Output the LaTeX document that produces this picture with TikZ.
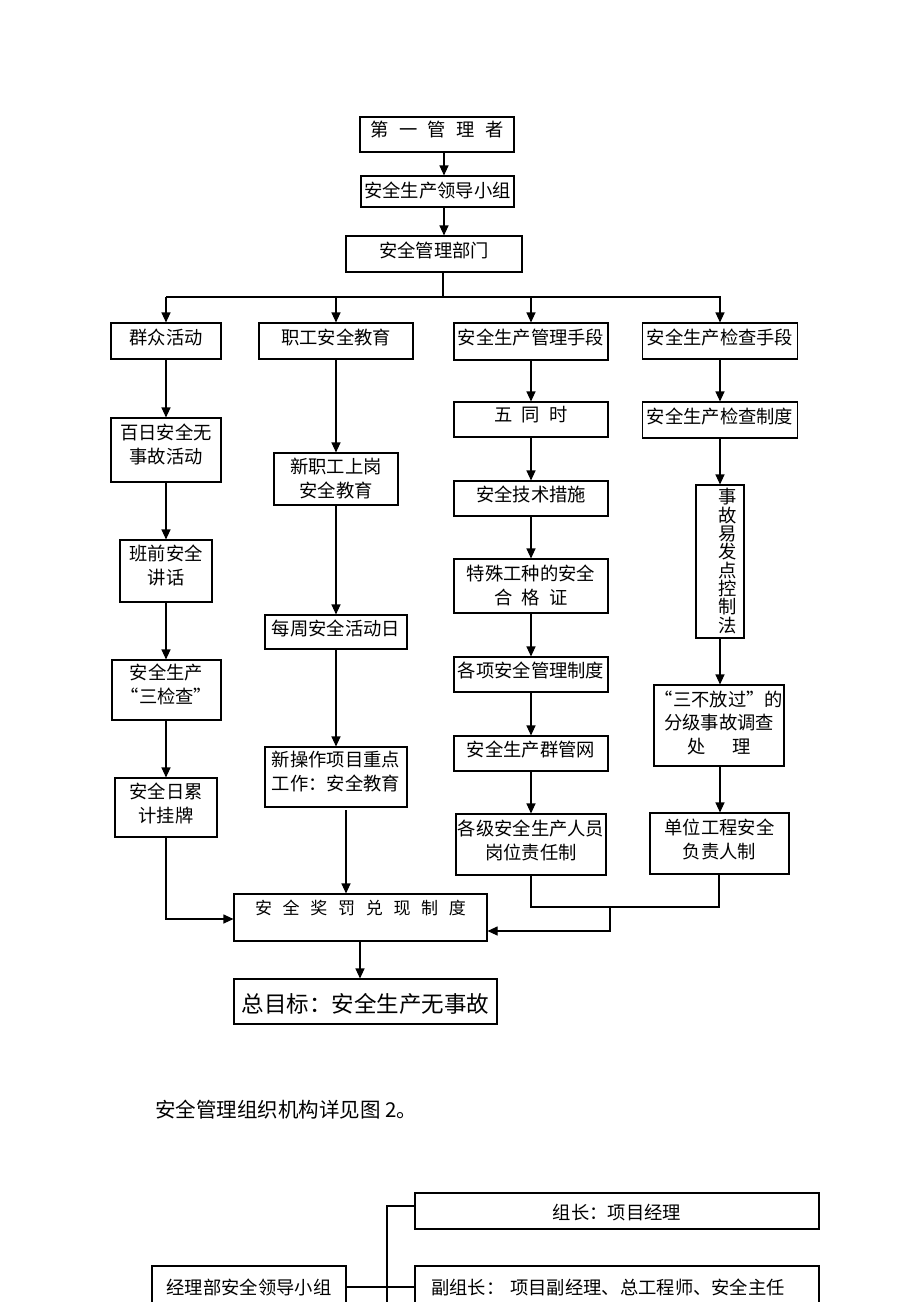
\documentclass[tikz,border=0pt]{standalone}
\usepackage{fontspec}
\setmainfont{Noto Sans CJK SC}
\usetikzlibrary{arrows.meta}
\newcommand{\fsa}{\fontsize{18.3}{24}\selectfont}
\newcommand{\gp}[1]{\hspace{#1pt}}
\begin{document}
\begin{tikzpicture}[x=1pt,y=-1pt,
  box/.style={draw=black, line width=1.1pt, inner sep=0pt, align=center, font=\fsa},
  ln/.style={line width=1.1pt},
  arr/.style={ln, -{Triangle[length=10pt,width=9pt]}}]
\path[use as bounding box, fill=white] (0,0) rectangle (920,1302);
\clip (0,0) rectangle (920,1302);

% column x coordinates
\coordinate (xa) at (444,0);
\coordinate (x1) at (166,0);
\coordinate (x2) at (336,0);
\coordinate (x3) at (531,0);
\coordinate (x4) at (720,0);
\coordinate (xj) at (360,0);

% top chain
\node[box, minimum width=154pt, minimum height=35pt, text depth=11.3pt] (b1) at (437,134.5) {第\gp{10.5}一\gp{10.5}管\gp{10.5}理\gp{10.5}者};
\node[box, minimum width=153pt, minimum height=31pt, text depth=4.3pt] (b2) at (437.5,191.5) {安全生产领导小组};
\node[box, minimum width=176pt, minimum height=36pt, text depth=9.3pt] (b3) at (434,254) {安全管理部门};

% row of four
\node[box, minimum width=110pt, minimum height=36pt, text depth=9.3pt] (r1) at (166,341) {群众活动};
\node[box, minimum width=154pt, minimum height=36pt, text depth=9.3pt] (r2) at (336,341) {职工安全教育};
\node[box, minimum width=154pt, minimum height=37pt, text depth=9.3pt] (r3) at (531,341.5) {安全生产管理手段};
\node[box, minimum width=155pt, minimum height=36pt, text depth=9.3pt] (r4) at (720,341) {安全生产检查手段};

% column 1
\node[box, minimum width=110pt, minimum height=64pt, text depth=13.3pt] (c1a) at (166,450) {百日安全无\\事故活动};
\node[box, minimum width=92pt, minimum height=62pt, text depth=13.3pt] (c1b) at (166,571) {班前安全\\讲话};
\node[box, minimum width=109pt, minimum height=60pt, text depth=12.3pt] (c1c) at (166.5,690) {安全生产\\“三检查”};
\node[box, minimum width=102pt, minimum height=59pt, text depth=10.3pt] (c1d) at (166,807.5) {安全日累\\计挂牌};

% column 2
\node[box, minimum width=124pt, minimum height=52pt, text depth=2.3pt] (c2a) at (336,479) {新职工上岗\\安全教育};
\node[box, minimum width=142pt, minimum height=34pt, text depth=9.3pt] (c2b) at (336,632) {每周安全活动日};
\node[box, minimum width=142pt, minimum height=60pt, text depth=12.3pt] (c2c) at (336,777) {新操作项目重点\\工作：安全教育};

% column 3
\node[box, minimum width=154pt, minimum height=35pt, text depth=10.3pt] (c3a) at (531,419.5) {五\gp{9.2}同\gp{9.2}时};
\node[box, minimum width=154pt, minimum height=35pt, text depth=10.3pt] (c3b) at (531,498.5) {安全技术措施};
\node[box, minimum width=154pt, minimum height=54pt, text depth=3.3pt] (c3c) at (531,586) {特殊工种的安全\\合\gp{9.2}格\gp{9.2}证};
\node[box, minimum width=154pt, minimum height=35pt, text depth=10.3pt] (c3d) at (531,674.5) {各项安全管理制度};
\node[box, minimum width=154pt, minimum height=35pt, text depth=10.3pt] (c3e) at (531,753.5) {安全生产群管网};
\node[box, minimum width=150pt, minimum height=61pt, text depth=10.3pt] (c3f) at (531,844.5) {各级安全生产人员\\岗位责任制};

% column 4
\node[box, minimum width=155pt, minimum height=36pt, text depth=9.3pt] (c4a) at (720,420) {安全生产检查制度};
\node[box, minimum width=48pt, minimum height=153pt, text depth=2.3pt, font=\fontsize{18.3}{18.3}\selectfont] (c4b) at (720,561.5)
  {\hspace*{16pt}事\\\hspace*{16pt}故\\\hspace*{16pt}易\\\hspace*{16pt}发\\\hspace*{16pt}点\\\hspace*{16pt}控\\\hspace*{16pt}制\\\hspace*{16pt}法};
\node[box, minimum width=130pt, minimum height=81pt, text depth=7.3pt, font=\fontsize{18.3}{23.5}\selectfont] (c4c) at (719,725.5) {“三不放过”的\\分级事故调查\\处\gp{27}理};
\node[box, minimum width=139pt, minimum height=61pt, text depth=10.3pt] (c4d) at (719.5,843.5) {单位工程安全\\负责人制};

% bottom of chart
\node[box, minimum width=253pt, minimum height=47pt, text depth=20.2pt, font=\fontsize{17}{20}\selectfont] (jf) at (360.5,917.5)
  {安\gp{10.7}全\gp{10.7}奖\gp{10.7}罚\gp{10.7}兑\gp{10.7}现\gp{10.7}制\gp{10.7}度};
\node[box, minimum width=263pt, minimum height=45pt, text height=23.7pt, font=\fontsize{22.5}{27}\selectfont] (zm) at (365.5,1001.5) {总目标：安全生产无事故};

% caption
\node[anchor=west, inner sep=0pt, font=\fontsize{20.5}{24}\selectfont] (cap) at (155,1110) {安全管理组织机构详见图 2。};

% organisation chart 2
\node[box, minimum width=404pt, minimum height=36pt, text height=19.2pt] (zz) at (617,1211) {组长：项目经理};
\node[box, minimum width=404pt, minimum height=42pt] (fz) at (617,1287) {副组长：\gp{6}项目副经理、总工程师、安全主任\hspace*{18pt}};
\node[box, minimum width=194pt, minimum height=42pt] (jl) at (249,1287) {经理部安全领导小组};

% ---- connectors ----
\draw[arr] (b1.south -| xa) -- (b2.north -| xa);
\draw[arr] (b2.south -| xa) -- (b3.north -| xa);
\coordinate (t) at (443,297);
\coordinate (h1) at (166,297);
\coordinate (h4) at (721,297);
\draw[ln] (b3.south -| t) -- (t);
\draw[ln] (h1) -- (h4);
\draw[arr] (h1) -- (r1.north -| x1);
\draw[arr] (h1 -| x2) -- (r2.north -| x2);
\draw[arr] (h1 -| x3) -- (r3.north -| x3);
\draw[arr] (h1 -| x4) -- (r4.north -| x4);

\foreach \a/\b in {r1/c1a,c1a/c1b,c1b/c1c,c1c/c1d}
  \draw[arr] (\a.south -| x1) -- (\b.north -| x1);
\foreach \a/\b in {r2/c2a,c2a/c2b,c2b/c2c}
  \draw[arr] (\a.south -| x2) -- (\b.north -| x2);
\foreach \a/\b in {r3/c3a,c3a/c3b,c3b/c3c,c3c/c3d,c3d/c3e,c3e/c3f}
  \draw[arr] (\a.south -| x3) -- (\b.north -| x3);
\foreach \a/\b in {r4/c4a,c4a/c4b,c4b/c4c,c4c/c4d}
  \draw[arr] (\a.south -| x4) -- (\b.north -| x4);

\coordinate (l1) at (166,919);
\draw[arr] (c1d.south -| x1) -- (l1) -- (l1 -| jf.west);
\coordinate (k1) at (346,810);
\draw[arr] (k1) -- (k1 |- jf.north);
\coordinate (m1) at (531,907);
\coordinate (m4) at (719,907);
\draw[ln] (c3f.south -| m1) -- (m1) -- (m4) -- (c4d.south -| m4);
\coordinate (m2) at (610,907);
\coordinate (m3) at (610,931);
\draw[arr] (m2) -- (m3) -- (m3 -| jf.east);
\draw[arr] (jf.south -| xj) -- (zm.north -| xj);

\coordinate (v1) at (387,1206);
\coordinate (v2) at (387,1320);
\draw[ln] (v2) -- (v1) -- (v1 -| zz.west);
\draw[line width=2pt] (jl.east) -- (fz.west);
\end{tikzpicture}
\end{document}
